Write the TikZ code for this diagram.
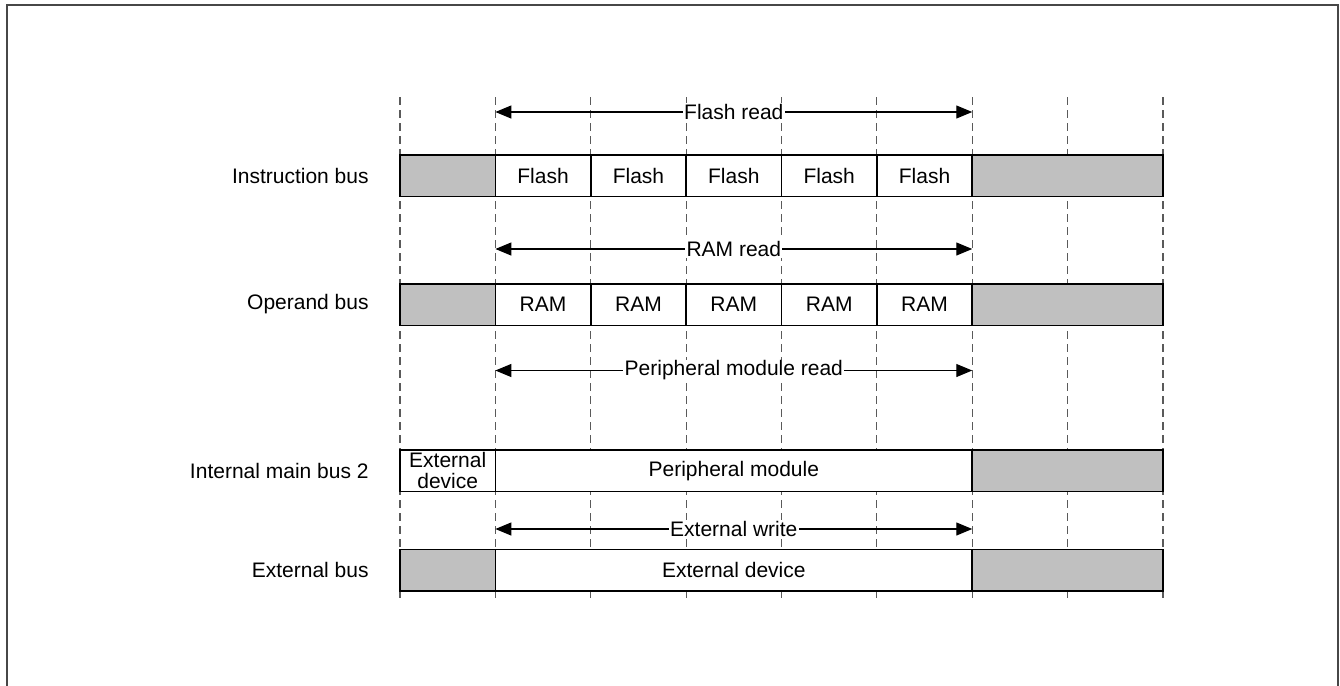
\documentclass[tikz,border=0pt]{standalone}
\usepackage{fontspec}
\setmainfont{Liberation Sans}
\usetikzlibrary{arrows.meta,positioning}
\definecolor{ink}{HTML}{000000}
\definecolor{idle}{HTML}{C0C0C0}
\definecolor{grid}{HTML}{5A5A5A}
\definecolor{frame}{HTML}{474747}
\tikzset{
  every node/.style={font=\fontsize{10.5}{10.5}\selectfont,text=ink},
  cell/.style={draw=ink,line width=0.8pt,fill=white,inner sep=0pt,outer sep=0pt,minimum width=47.6875pt,minimum height=20.75pt,align=center},
  idlecell/.style={cell,fill=idle},
  widecell/.style={cell,minimum width=95.375pt},
  idlewide/.style={widecell,fill=idle},
  longcell/.style={cell,minimum width=238.4375pt},
  buslabel/.style={anchor=east,inner sep=0pt},
  span/.style={{Triangle[length=8pt,width=6.5pt]}-{Triangle[length=8pt,width=6.5pt]},line width=0.6pt,draw=ink},
  spanlabel/.style={fill=white,inner sep=0.6pt},
  gridline/.style={draw=grid,line width=0.6pt,dash pattern=on 4pt off 2.5pt},
  frameline/.style={draw=frame,line width=1pt},
}
\begin{document}
\begin{tikzpicture}[x=0.5pt,y=-0.5pt]
\useasboundingbox (0,0) rectangle (1340,686);
\draw[frameline] (6.5,686) -- (6.5,5) -- (1338,5) -- (1338,686);

% cycle grid
\foreach \x in {400,495.375,590.75,686.125,781.5,876.875,972.25,1067.625,1163}
  \draw[gridline] (\x,97) -- (\x,598);

% instruction bus
\node[buslabel] (ib) at (369,176) {Instruction bus};
\node[idlecell,anchor=north west] (ib0) at (400,155) {};
\node[cell,right=0pt of ib0] (ib1) {Flash};
\node[cell,right=0pt of ib1] (ib2) {Flash};
\node[cell,right=0pt of ib2] (ib3) {Flash};
\node[cell,right=0pt of ib3] (ib4) {Flash};
\node[cell,right=0pt of ib4] (ib5) {Flash};
\node[idlewide,right=0pt of ib5] (ib6) {};

% operand bus
\node[buslabel] (ob) at (369,304.5) {Operand bus};
\node[idlecell,anchor=north west] (ob0) at (400,284) {};
\node[cell,right=0pt of ob0] (ob1) {RAM};
\node[cell,right=0pt of ob1] (ob2) {RAM};
\node[cell,right=0pt of ob2] (ob3) {RAM};
\node[cell,right=0pt of ob3] (ob4) {RAM};
\node[cell,right=0pt of ob4] (ob5) {RAM};
\node[idlewide,right=0pt of ob5] (ob6) {};

% internal main bus 2
\node[buslabel] (mb) at (369,471) {Internal main bus 2};
\node[cell,anchor=north west] (mb0) at (400,450) {External\\device};
\node[longcell,right=0pt of mb0] (mb1) {Peripheral module};
\node[idlewide,right=0pt of mb1] (mb2) {};

% external bus
\node[buslabel] (eb) at (369,570) {External bus};
\node[idlecell,anchor=north west] (eb0) at (400,549.5) {};
\node[longcell,right=0pt of eb0] (eb1) {External device};
\node[idlewide,right=0pt of eb1] (eb2) {};

% access spans
\coordinate (fr-l) at (495.375,112);
\coordinate (fr-r) at (972.25,112);
\coordinate (rr-l) at (495.375,249);
\coordinate (rr-r) at (972.25,249);
\coordinate (pr-l) at (495.375,370.5);
\coordinate (pr-r) at (972.25,370.5);
\coordinate (ew-l) at (495.375,529);
\coordinate (ew-r) at (972.25,529);
\draw[span] (fr-l) -- node[spanlabel]{Flash read} (fr-r);
\draw[span] (rr-l) -- node[spanlabel]{RAM read} (rr-r);
\draw[span] (pr-l) -- node[spanlabel]{Peripheral module read} (pr-r);
\draw[span] (ew-l) -- node[spanlabel]{External write} (ew-r);
\end{tikzpicture}
\end{document}
